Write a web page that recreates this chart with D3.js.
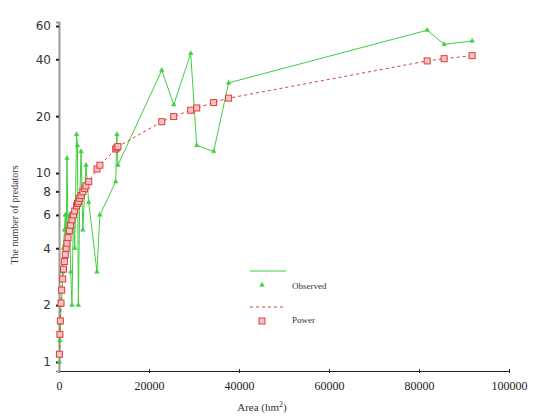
<!DOCTYPE html>
<html>
<head>
<meta charset="utf-8">
<script src="https://cdn.jsdelivr.net/npm/d3@7"></script>
<style>
  body { margin: 0; background: #fff; }
  svg { display: block; }
</style>
</head>
<body>
<div id="chart"></div>
<script>
// study sites sorted by area (hm2)
const areas = [100, 200, 300, 450, 600, 800, 1000, 1200, 1400, 1600, 1770, 2000, 2300, 2600, 2880,
  3200, 3500, 3900, 4100, 4300, 4600, 4900, 5300, 5700, 6000, 6600, 8430, 9090,
  12600, 12860, 13100, 22840, 25500, 29270, 30600, 34370, 37690, 81820, 85590, 91800];
// observed number of predators
const observed = [1, 1.3, 1.6, 2, 2, 3, 4, 5, 6, 4, 12, 5, 6, 3, 2,
  6, 4, 16, 14, 2, 7, 13, 5, 8, 11, 7, 3, 6,
  9, 16, 11, 35, 23, 43, 14, 13, 30, 57, 48, 50];
// power model fit
const power = [1.1, 1.4, 1.65, 2.05, 2.4, 2.75, 3.1, 3.4, 3.7, 4.0, 4.25, 4.55, 4.95, 5.3, 5.65,
  6.0, 6.3, 6.7, 6.9, 7.05, 7.35, 7.6, 7.95, 8.3, 8.55, 9.0, 10.5, 11.0,
  13.4, 13.6, 13.8, 18.7, 19.9, 21.5, 22.1, 23.6, 24.9, 39.2, 40.3, 41.8];
const xTicks = [0, 20000, 40000, 60000, 80000, 100000];
const yTicks = [1, 2, 4, 6, 8, 10, 20, 40, 60];

const W = 533, H = 417;
const green = "#3fcf3f", red = "#e23a3a";

const svg = d3.select("#chart").append("svg")
  .attr("width", W).attr("height", H);

const x = d3.scaleLinear().domain([0, 100000]).range([59, 509]);
const y = d3.scaleLog().domain([0.896, 63]).range([371, 22]);

// axes
const xAxis = svg.append("g")
  .attr("transform", `translate(0,${y(0.896)})`)
  .call(d3.axisBottom(x).tickValues(xTicks).tickFormat(d3.format("d")).tickSizeInner(2).tickSizeOuter(0).tickPadding(8));
xAxis.select(".domain").attr("stroke", "#222");
xAxis.selectAll(".tick line").attr("y1", -2).attr("stroke", "#222");
xAxis.selectAll("text")
  .attr("font-family", "Liberation Serif, serif").attr("font-size", 12).attr("fill", "#222");

const yAxis = svg.append("g")
  .attr("transform", `translate(${x(0)},0)`)
  .call(d3.axisLeft(y).tickValues(yTicks).tickFormat(d3.format("d")).tickSize(3).tickPadding(5));
yAxis.select(".domain").attr("stroke", "#999").attr("stroke-width", 2);
yAxis.selectAll(".tick line").attr("stroke", "#222").attr("stroke-width", 2);
yAxis.selectAll("text")
  .attr("font-family", "DejaVu Sans, sans-serif").attr("font-size", 12).attr("fill", "#333");

svg.append("text")
  .attr("transform", "translate(18,215) rotate(-90)")
  .attr("text-anchor", "middle")
  .attr("font-family", "Liberation Serif, serif").attr("font-size", 10).attr("fill", "#333")
  .text("The number of predators");

const xl = svg.append("text")
  .attr("x", 262).attr("y", 411)
  .attr("text-anchor", "middle")
  .attr("font-family", "Liberation Serif, serif").attr("font-size", 11).attr("fill", "#333");
xl.append("tspan").text("Area (hm");
xl.append("tspan").attr("dy", -4).attr("font-size", 8).text("2");
xl.append("tspan").attr("dy", 4).text(")");

// series
const rows = areas.map((a, i) => ({ a, obs: observed[i], pow: power[i] }));

svg.append("path").datum(rows)
  .attr("fill", "none").attr("stroke", green).attr("stroke-width", 1)
  .attr("d", d3.line().x(d => x(d.a)).y(d => y(d.obs)));

svg.append("path").datum(rows)
  .attr("fill", "none").attr("stroke", red).attr("stroke-width", 1)
  .attr("stroke-dasharray", "3,3")
  .attr("d", d3.line().x(d => x(d.a)).y(d => y(d.pow)));

const tri = d3.symbol().type(d3.symbolTriangle).size(9);
svg.selectAll(".obs").data(rows).join("path")
  .attr("class", "obs")
  .attr("transform", d => `translate(${x(d.a)},${y(d.obs)})`)
  .attr("d", tri)
  .attr("fill", green).attr("stroke", green).attr("stroke-width", 0.5);

svg.selectAll(".pow").data(rows).join("rect")
  .attr("class", "pow")
  .attr("x", d => x(d.a) - 3).attr("y", d => y(d.pow) - 3)
  .attr("width", 6).attr("height", 6)
  .attr("fill", "#f7c4c4").attr("stroke", red).attr("stroke-width", 1);

// legend
const lg = svg.append("g").attr("transform", "translate(250,0)");
lg.append("line").attr("x1", 0).attr("x2", 36).attr("y1", 271).attr("y2", 271)
  .attr("stroke", green).attr("stroke-width", 1);
lg.append("path").attr("transform", "translate(12,285)").attr("d", tri)
  .attr("fill", green).attr("stroke", green).attr("stroke-width", 0.5);
lg.append("text").attr("x", 42).attr("y", 289)
  .attr("font-family", "Liberation Serif, serif").attr("font-size", 9).attr("fill", "#333")
  .text("Observed");
lg.append("line").attr("x1", 0).attr("x2", 36).attr("y1", 307).attr("y2", 307)
  .attr("stroke", red).attr("stroke-width", 1).attr("stroke-dasharray", "3,3");
lg.append("rect").attr("x", 9).attr("y", 318).attr("width", 6).attr("height", 6)
  .attr("fill", "#f7c4c4").attr("stroke", red).attr("stroke-width", 1);
lg.append("text").attr("x", 42).attr("y", 323)
  .attr("font-family", "Liberation Serif, serif").attr("font-size", 9).attr("fill", "#333")
  .text("Power");
</script>
</body>
</html>
